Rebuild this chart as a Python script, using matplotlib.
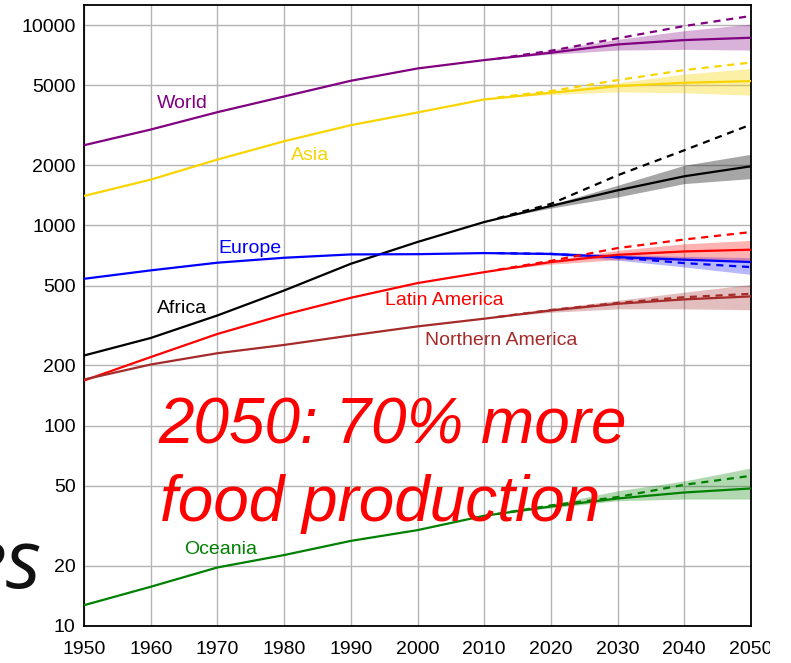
import matplotlib
matplotlib.use("Agg")
import matplotlib.pyplot as plt
from matplotlib.patches import Rectangle

# ---------------- data ----------------
years = [1950, 1960, 1970, 1980, 1990, 2000, 2010, 2020, 2030, 2040, 2050]
proj_years = [2012, 2020, 2030, 2040, 2050]

world_solid = [2512, 3008, 3673, 4400, 5270, 6070, 6683, 7273, 8000, 8414, 8640]
world_dash = [6800, 7440, 8580, 9886, 11100]
world_lo = [6800, 7150, 7500, 7560, 7500]
world_hi = [6800, 7500, 8480, 9370, 10116]

asia_solid = [1402, 1692, 2130, 2630, 3162, 3660, 4250, 4590, 4956, 5148, 5250]
asia_dash = [4350, 4680, 5309, 5957, 6500]
asia_lo = [4350, 4500, 4640, 4590, 4467]
asia_hi = [4350, 4700, 5150, 5690, 6070]

africa_solid = [224, 274, 355, 473, 643, 826, 1039, 1250, 1496, 1758, 1972]
africa_dash = [1085, 1280, 1778, 2371, 3187]
africa_lo = [1085, 1220, 1386, 1616, 1712]
africa_hi = [1085, 1270, 1585, 1995, 2265]

europe_solid = [541, 596, 651, 689, 716, 718, 727, 720, 694, 674, 656]
europe_dash = [727, 720, 692, 648, 619]
europe_lo = [727, 712, 670, 620, 569]
europe_hi = [727, 735, 715, 700, 690]

latin_solid = [168, 220, 287, 358, 435, 515, 584, 656, 713, 741, 756]
latin_dash = [600, 665, 770, 850, 926]
latin_lo = [600, 640, 674, 668, 668]
latin_hi = [600, 670, 750, 809, 841]

namerica_solid = [170, 202, 230, 253, 282, 313, 342, 376, 406, 427, 442]
namerica_dash = [349, 378, 410, 438, 455]
namerica_lo = [349, 368, 383, 383, 379]
namerica_hi = [349, 385, 422, 464, 507]

oceania_solid = [12.7, 15.7, 19.6, 22.6, 26.6, 30.1, 35.5, 39.5, 43.3, 46.4, 48.6]
oceania_dash = [36.3, 40.0, 44.0, 50.7, 56.2]
oceania_lo = [36.3, 38.8, 42.2, 43.0, 43.0]
oceania_hi = [36.3, 40.5, 47.3, 53.0, 61.5]

region_names = ["World", "Asia", "Africa", "Europe", "Latin America",
                "Northern America", "Oceania"]
y_ticks = [10, 20, 50, 100, 200, 500, 1000, 2000, 5000, 10000]
x_ticks = [1950, 1960, 1970, 1980, 1990, 2000, 2010, 2020, 2030, 2040, 2050]

series = [
    (world_solid, world_dash, world_lo, world_hi, "#800080", 0.30),
    (asia_solid, asia_dash, asia_lo, asia_hi, "#F8D400", 0.35),
    (africa_solid, africa_dash, africa_lo, africa_hi, "#000000", 0.35),
    (europe_solid, europe_dash, europe_lo, europe_hi, "#0000FF", 0.28),
    (latin_solid, latin_dash, latin_lo, latin_hi, "#FF0000", 0.30),
    (namerica_solid, namerica_dash, namerica_lo, namerica_hi, "#A52A2A", 0.30),
    (oceania_solid, oceania_dash, oceania_lo, oceania_hi, "#008000", 0.30),
]

# label anchor positions (data coordinates, left / centre)
label_pos = [(1961.0, 4040), (1981.0, 2245), (1961.0, 385), (1970.1, 767),
             (1995.1, 422), (2001.1, 265), (1965.0, 24.2)]

# ---------------- figure ----------------
plt.rcParams["font.family"] = ["Liberation Sans", "DejaVu Sans"]
fig = plt.figure(figsize=(7.91, 6.63), dpi=100)
ax = fig.add_axes([84 / 791, 37 / 663, 667 / 791, 621 / 663])
ax.set_yscale("log")
ax.set_xlim(1950, 2050)
ax.set_ylim(10, 12590)

for solid, dash, lo, hi, col, a in series:
    ax.fill_between(proj_years, lo, hi, color=col, alpha=a, lw=0, zorder=2)
for solid, dash, lo, hi, col, a in series:
    ax.plot(years, solid, color=col, lw=1.6, zorder=4, solid_capstyle="butt")
    ax.plot(proj_years, dash, color=col, lw=1.6, ls=(0, (3.2, 2.6)), zorder=4)

for name, (x, y), s in zip(region_names, label_pos, series):
    ax.text(x, y, name, color=s[4], fontsize=14, ha="left", va="center", zorder=5)

ax.set_yticks(y_ticks)
ax.set_yticklabels([str(v) for v in y_ticks])
ax.yaxis.set_minor_locator(matplotlib.ticker.NullLocator())
ax.set_xticks(x_ticks)
ax.set_xticklabels([str(v) for v in x_ticks])
ax.tick_params(axis="both", length=0, labelsize=14, colors="black")
ax.tick_params(axis="y", pad=6)
ax.tick_params(axis="x", pad=11)
ax.grid(True, which="major", color="#b4b4b4", lw=1.0, zorder=0)
ax.set_axisbelow(True)
for sp in ax.spines.values():
    sp.set_linewidth(1.3)
    sp.set_color("black")

# big overlay text
fig.text(158 / 791, 1 - 443 / 663, "2050: 70% more", color="#FF0000",
         fontsize=46, style="italic", ha="left", va="baseline", zorder=10)
fig.text(160 / 791, 1 - 521 / 663, "food production", color="#FF0000",
         fontsize=46, style="italic", ha="left", va="baseline", zorder=10)
fig.text(42 / 791, 1 - 588 / 663, "es", color="#111111", fontsize=59,
         style="italic", ha="right", va="baseline",
         family=["Open Sans", "DejaVu Sans"], zorder=10)

# crop edge on the right like the reference
fig.add_artist(Rectangle((770 / 791, 0), 21 / 791, 1, transform=fig.transFigure,
                         facecolor="white", edgecolor="none", zorder=20))

fig.savefig("out.png", dpi=100)
